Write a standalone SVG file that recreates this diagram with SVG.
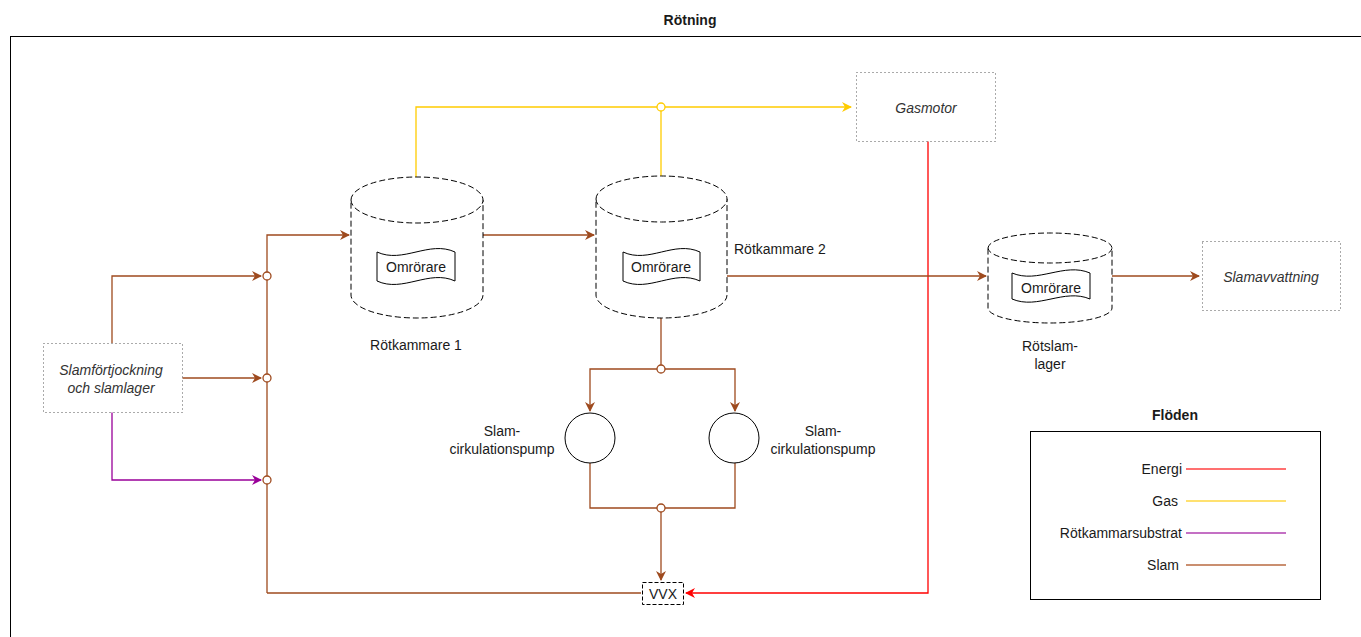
<svg xmlns="http://www.w3.org/2000/svg" width="1361" height="637" viewBox="0 0 1361 637">
<style>
text{font-family:"Liberation Sans",Arial,sans-serif;font-size:14px;fill:#1a1a1a}
.it{font-style:italic;fill:#333}
.c{text-anchor:middle}
.r{text-anchor:end}
.b{font-weight:bold}
.cyl{fill:#fff;stroke:#000;stroke-dasharray:6 3;stroke-width:1}
.tape{fill:#fff;stroke:#000;stroke-width:1}
.dot{fill:#fff;stroke:#555;stroke-dasharray:1 3;stroke-width:1}
.slam{fill:none;stroke:#9E4A1E;stroke-width:1.3}
.gas{fill:none;stroke:#FFCC00;stroke-width:1.3}
.sub{fill:none;stroke:#990099;stroke-width:1.3}
.en{fill:none;stroke:#FF0000;stroke-width:1.3}
.js{fill:#fff;stroke:#9E4A1E;stroke-width:1.3}
.jg{fill:#fff;stroke:#FFCC00;stroke-width:1.3}
</style>
<defs>
<marker id="aS" viewBox="0 0 10 10" refX="9" refY="5" markerWidth="10" markerHeight="10" markerUnits="userSpaceOnUse" orient="auto"><path d="M0,0 L10,5 L0,10 L3,5 Z" fill="#9E4A1E"/></marker>
<marker id="aG" viewBox="0 0 10 10" refX="9" refY="5" markerWidth="10" markerHeight="10" markerUnits="userSpaceOnUse" orient="auto"><path d="M0,0 L10,5 L0,10 L3,5 Z" fill="#FFCC00"/></marker>
<marker id="aP" viewBox="0 0 10 10" refX="9" refY="5" markerWidth="10" markerHeight="10" markerUnits="userSpaceOnUse" orient="auto"><path d="M0,0 L10,5 L0,10 L3,5 Z" fill="#990099"/></marker>
<marker id="aE" viewBox="0 0 10 10" refX="9" refY="5" markerWidth="10" markerHeight="10" markerUnits="userSpaceOnUse" orient="auto"><path d="M0,0 L10,5 L0,10 L3,5 Z" fill="#FF0000"/></marker>
</defs>
<rect width="1361" height="637" fill="#fff"/>
<text x="690" y="25" class="c b">Rötning</text>
<rect x="10.5" y="36.5" width="1400" height="700" fill="none" stroke="#000" stroke-width="1"/>

<g id="connectors">
<polyline class="gas" points="416,177 416,107 851,107" marker-end="url(#aG)"/>
<polyline class="gas" points="661,176 661,107"/>
<polyline class="en" points="928,141 928,593 686,593" marker-end="url(#aE)"/>
<polyline class="slam" points="112,343 112,276 261,276" marker-end="url(#aS)"/>
<polyline class="slam" points="182,378 261,378" marker-end="url(#aS)"/>
<polyline class="sub" points="112,412 112,480 261,480" marker-end="url(#aP)"/>
<polyline class="slam" points="267,593 267,235 349,235" marker-end="url(#aS)"/>
<polyline class="slam" points="267,593 641,593"/>
<polyline class="slam" points="483,235 594,235" marker-end="url(#aS)"/>
<polyline class="slam" points="727,276 986,276" marker-end="url(#aS)"/>
<polyline class="slam" points="1112,276 1199,276" marker-end="url(#aS)"/>
<polyline class="slam" points="661,318 661,369"/>
<polyline class="slam" points="661,369 590,369 590,411" marker-end="url(#aS)"/>
<polyline class="slam" points="661,369 735,369 735,411" marker-end="url(#aS)"/>
<polyline class="slam" points="590,463 590,508 735,508 735,463"/>
<polyline class="slam" points="661,508 661,580" marker-end="url(#aS)"/>
<circle class="jg" cx="661" cy="107" r="4"/>
<circle class="js" cx="267" cy="276" r="4"/>
<circle class="js" cx="267" cy="378" r="4"/>
<circle class="js" cx="267" cy="480" r="4"/>
<circle class="js" cx="661" cy="369" r="4"/>
<circle class="js" cx="661" cy="508" r="4"/>
</g>

<g id="rotkammare1">
<path class="cyl" d="M351,200 A66,23 0 0 1 483,200 L483,295 A66,23 0 0 1 351,295 Z"/>
<path class="cyl" fill="none" d="M351,200 A66,23 0 0 0 483,200"/>
<path class="tape" d="M377,252 C403,264 429,240 455,252 L455,281 C429,269 403,293 377,281 Z"/>
<text x="416" y="272" class="c">Omrörare</text>
<text x="416" y="350" class="c">Rötkammare 1</text>
</g>

<g id="rotkammare2">
<path class="cyl" d="M596,199 A65.5,23 0 0 1 727,199 L727,295 A65.5,23 0 0 1 596,295 Z"/>
<path class="cyl" fill="none" d="M596,199 A65.5,23 0 0 0 727,199"/>
<path class="tape" d="M623,252 C649,264 674,240 700,252 L700,281 C674,269 649,293 623,281 Z"/>
<text x="661" y="272" class="c">Omrörare</text>
<text x="734" y="254">Rötkammare 2</text>
</g>

<g id="rotslamlager">
<path class="cyl" d="M988,248 A62,15 0 0 1 1112,248 L1112,308 A62,15 0 0 1 988,308 Z"/>
<path class="cyl" fill="none" d="M988,248 A62,15 0 0 0 1112,248"/>
<path class="tape" d="M1012,273 C1038,284 1064,262 1090,273 L1090,299 C1064,288 1038,310 1012,299 Z"/>
<text x="1051" y="293" class="c">Omrörare</text>
<text x="1050" y="351" class="c">Rötslam-</text>
<text x="1050" y="369" class="c">lager</text>
</g>

<g id="gasmotor">
<rect class="dot" x="856.5" y="72.5" width="139" height="69"/>
<text x="926" y="113" class="c it">Gasmotor</text>
</g>

<g id="slamavvattning">
<rect class="dot" x="1202.5" y="241.5" width="138" height="69"/>
<text x="1271" y="282" class="c it">Slamavvattning</text>
</g>

<g id="slamfortjockning">
<rect class="dot" x="43.5" y="343.5" width="139" height="69"/>
<text x="111" y="375" class="c it">Slamförtjockning</text>
<text x="111" y="393" class="c it">och slamlager</text>
</g>

<g id="pump1">
<circle cx="590" cy="438" r="25" fill="#fff" stroke="#000" stroke-width="1"/>
<text x="502" y="436" class="c">Slam-</text>
<text x="502" y="454" class="c">cirkulationspump</text>
</g>

<g id="pump2">
<circle cx="734" cy="438" r="25" fill="#fff" stroke="#000" stroke-width="1"/>
<text x="823" y="436" class="c">Slam-</text>
<text x="823" y="454" class="c">cirkulationspump</text>
</g>

<g id="vvx">
<rect x="642.5" y="582.5" width="41" height="22" fill="#fff" stroke="#000" stroke-dasharray="4 2"/>
<text x="663" y="599" class="c">VVX</text>
</g>

<g id="legend">
<text x="1175" y="420" class="c b">Flöden</text>
<rect x="1030.5" y="431.5" width="290" height="168" fill="#fff" stroke="#000"/>
<text x="1182" y="474" class="r">Energi</text>
<line x1="1186" y1="469" x2="1286" y2="469" stroke="#FF4040" stroke-width="1.3"/>
<text x="1178" y="506" class="r">Gas</text>
<line x1="1186" y1="501" x2="1286" y2="501" stroke="#FFD740" stroke-width="1.3"/>
<text x="1182" y="538" class="r">Rötkammarsubstrat</text>
<line x1="1186" y1="533" x2="1286" y2="533" stroke="#B040B0" stroke-width="1.3"/>
<text x="1179" y="570" class="r">Slam</text>
<line x1="1186" y1="565" x2="1286" y2="565" stroke="#B86A40" stroke-width="1.3"/>
</g>
</svg>
